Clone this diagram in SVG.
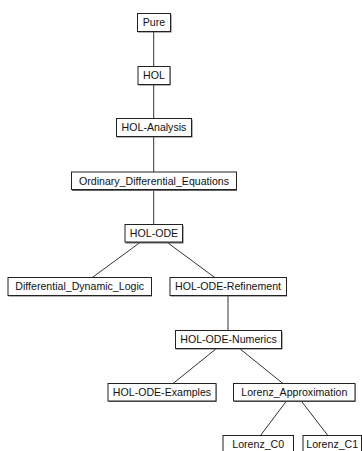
<svg xmlns="http://www.w3.org/2000/svg" width="362" height="451" viewBox="0 0 362 451">
<style>
.b{fill:#fff;stroke:#222;stroke-width:1}
.s{fill:#666}
.t{font-family:"Liberation Sans",Arial,sans-serif;font-size:10.6px;fill:#111;text-anchor:middle}
.e{stroke:#333;stroke-width:1;fill:none}
</style>
<rect width="362" height="451" fill="#fff"/>
<g id="edges">
<line class="e" x1="153.7" y1="31.5" x2="153.7" y2="66.5"/>
<line class="e" x1="153.7" y1="84.5" x2="153.7" y2="118.5"/>
<line class="e" x1="153.7" y1="136.5" x2="153.7" y2="172"/>
<line class="e" x1="153.7" y1="189.5" x2="153.7" y2="224.5"/>
<line class="e" x1="140.7" y1="242" x2="92" y2="277.7"/>
<line class="e" x1="166.7" y1="242" x2="215" y2="277.7"/>
<line class="e" x1="228" y1="295.5" x2="228" y2="330.7"/>
<line class="e" x1="216.7" y1="348.3" x2="173.3" y2="383.3"/>
<line class="e" x1="239.3" y1="348.3" x2="282.7" y2="383.3"/>
<line class="e" x1="286.7" y1="400.7" x2="260.7" y2="435.3"/>
<line class="e" x1="301" y1="400.7" x2="327.7" y2="435.3"/>
</g>
<g id="Pure"><rect class="s" x="138" y="14.5" width="33.5" height="18"/><rect class="b" x="137.5" y="13.5" width="33" height="18"/><text class="t" x="154" y="26.3">Pure</text></g>
<g id="HOL"><rect class="s" x="138.5" y="67.5" width="32" height="18"/><rect class="b" x="138" y="66.5" width="32" height="18"/><text class="t" x="154" y="79.3">HOL</text></g>
<g id="HOL-Analysis"><rect class="s" x="117" y="119.5" width="75.5" height="18"/><rect class="b" x="116.5" y="118.5" width="75" height="18"/><text class="t" x="154" y="131.3">HOL-Analysis</text></g>
<g id="Ordinary_Differential_Equations"><rect class="s" x="72" y="173" width="165" height="18"/><rect class="b" x="71.5" y="172" width="165" height="17.5"/><text class="t" x="154" y="184.8">Ordinary_Differential_Equations</text></g>
<g id="HOL-ODE"><rect class="s" x="125.5" y="225.5" width="58" height="18"/><rect class="b" x="125" y="224.5" width="57.5" height="17.5"/><text class="t" x="154" y="237.3">HOL-ODE</text></g>
<g id="Differential_Dynamic_Logic"><rect class="s" x="8.5" y="278.5" width="143.5" height="18"/><rect class="b" x="8" y="277.5" width="143.5" height="18"/><text class="t" x="79.7" y="290.3">Differential_Dynamic_Logic</text></g>
<g id="HOL-ODE-Refinement"><rect class="s" x="170.5" y="278.5" width="116.5" height="18"/><rect class="b" x="170" y="277.5" width="116.5" height="18"/><text class="t" x="228" y="290.3">HOL-ODE-Refinement</text></g>
<g id="HOL-ODE-Numerics"><rect class="s" x="176" y="331.5" width="106.5" height="18"/><rect class="b" x="175.5" y="330.5" width="106" height="18"/><text class="t" x="228.5" y="343.3">HOL-ODE-Numerics</text></g>
<g id="HOL-ODE-Examples"><rect class="s" x="108.5" y="384" width="108" height="18"/><rect class="b" x="108" y="383.5" width="108" height="17.5"/><text class="t" x="162" y="395.8">HOL-ODE-Examples</text></g>
<g id="Lorenz_Approximation"><rect class="s" x="234" y="384" width="121.5" height="18"/><rect class="b" x="233.5" y="383.5" width="121.5" height="17.5"/><text class="t" x="294.3" y="395.8">Lorenz_Approximation</text></g>
<g id="Lorenz_C0"><rect class="s" x="223.5" y="436" width="70.5" height="18"/><rect class="b" x="223" y="435.5" width="70.5" height="18"/><text class="t" x="258.2" y="447.8">Lorenz_C0</text></g>
<g id="Lorenz_C1"><rect class="s" x="303.5" y="436" width="59" height="18"/><rect class="b" x="303" y="435.5" width="58.5" height="18"/><text class="t" x="332.2" y="447.8">Lorenz_C1</text></g>
</svg>
